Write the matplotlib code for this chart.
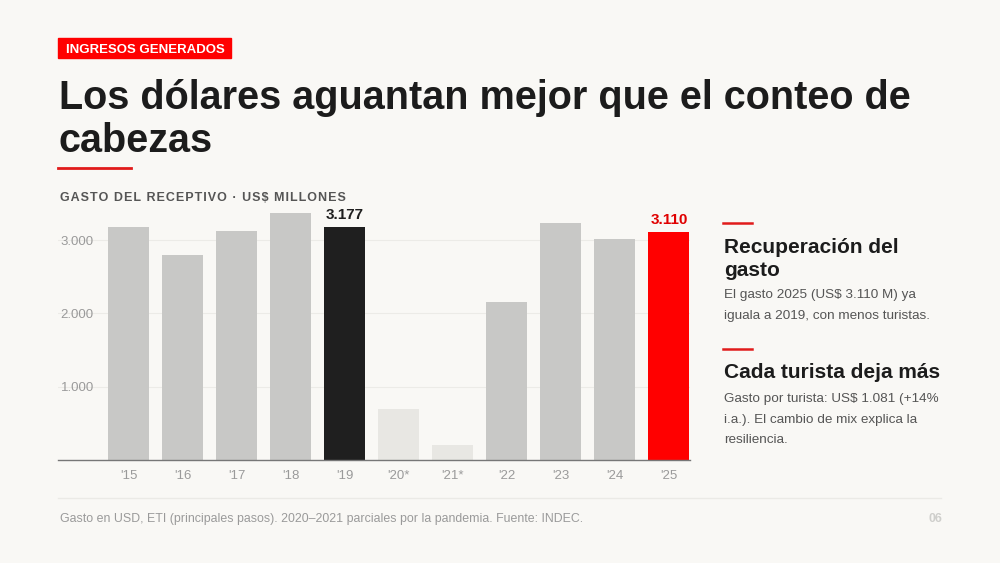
import matplotlib.pyplot as plt
from matplotlib.patches import Rectangle
from matplotlib.lines import Line2D

# Data
years = ["'15", "'16", "'17", "'18", "'19", "'20*", "'21*", "'22", "'23", "'24", "'25"]
gasto = [3180, 2800, 3130, 3370, 3177, 700, 200, 2150, 3240, 3020, 3110]
bar_colors = ["#c8c8c6", "#c8c8c6", "#c8c8c6", "#c8c8c6", "#1f1f1f", "#e8e7e3",
              "#e8e7e3", "#c8c8c6", "#c8c8c6", "#c8c8c6", "#ff0000"]
ytick_vals = [1000, 2000, 3000]
ytick_labels = ["1.000", "2.000", "3.000"]
highlights = {4: ("3.177", "#1f1f1f"), 10: ("3.110", "#e00000")}

BG = "#f9f8f5"
W, H = 1000, 563
plt.rcParams['font.family'] = ['Liberation Sans', 'DejaVu Sans']


def fx(x):
    return x / W


def fy(y):
    return 1 - y / H


def tracked(s):
    # poor man's letter spacing with hair spaces
    return "\u200a".join(s)


fig = plt.figure(figsize=(10, 5.63), dpi=100, facecolor=BG)

# Header tag
fig.patches.append(Rectangle((fx(58), fy(58)), fx(231) - fx(58), fy(38) - fy(58),
                             transform=fig.transFigure, color="#ff0000", zorder=1))
fig.text(fx(66), fy(52.7), "INGRESOS GENERADOS", color="white", fontsize=9.5,
         fontweight="bold", va="baseline", ha="left")

# Title
fig.text(fx(59), fy(109), "Los dólares aguantan mejor que el conteo de", fontsize=28.5,
         fontweight="bold", color="#1c1c1c", va="baseline", ha="left")
fig.text(fx(59), fy(151.5), "cabezas", fontsize=28.5, fontweight="bold", color="#1c1c1c",
         va="baseline", ha="left")
fig.lines.append(Line2D([fx(58), fx(131)], [fy(168), fy(168)], transform=fig.transFigure,
                        color="#e11b1b", lw=2))

# Chart subtitle
fig.text(fx(60), fy(200.7), tracked("GASTO DEL RECEPTIVO · US$ MILLONES"),
         fontsize=9, fontweight="bold", color="#555555", va="baseline", ha="left")

# Bar chart
ax = fig.add_axes([fx(58), fy(460), fx(690) - fx(58), (460 - 203.5) / H])
ax.set_facecolor(BG)
x = list(range(len(years)))
ax.bar(x, gasto, width=0.76, color=bar_colors, zorder=2)
ax.set_xlim(-1.31, 10.39)
ax.set_ylim(0, 3500)
ax.set_yticks(ytick_vals)
ax.set_yticklabels(ytick_labels)
ax.set_xticks(x)
ax.set_xticklabels(years)
ax.tick_params(axis='y', length=0, pad=-2, labelsize=9.5, labelcolor="#9a9a9a")
for lbl in ax.get_yticklabels():
    lbl.set_horizontalalignment('left')
ax.tick_params(axis='x', length=0, pad=7, labelsize=9.5, labelcolor="#9a9a9a")
ax.grid(axis='y', color="#ecebe7", lw=0.8, zorder=0)
for s in ['top', 'right', 'left']:
    ax.spines[s].set_visible(False)
ax.spines['bottom'].set_color("#777777")
ax.spines['bottom'].set_linewidth(1)
ax.spines['bottom'].set_zorder(3)

for i, (txt, col) in highlights.items():
    ax.annotate(txt, xy=(i, gasto[i]), xytext=(0, 4), textcoords="offset points",
                ha="center", va="bottom", fontsize=11, fontweight="bold", color=col)


# Right panel
def red_dash(y):
    fig.lines.append(Line2D([fx(723), fx(752)], [fy(y), fy(y)], transform=fig.transFigure,
                            color="#e11b1b", lw=1.8))


HEAD = dict(fontsize=15, fontweight="bold", color="#1c1c1c", va="baseline")
BODY = dict(fontsize=9.7, color="#555555", va="baseline")

red_dash(222.7)
fig.text(fx(724), fy(252.7), "Recuperación del", **HEAD)
fig.text(fx(724), fy(276.5), "gasto", **HEAD)
fig.text(fx(724), fy(298.3), "El gasto 2025 (US$ 3.110 M) ya", **BODY)
fig.text(fx(724), fy(319), "iguala a 2019, con menos turistas.", **BODY)

red_dash(348.7)
fig.text(fx(724), fy(378.3), "Cada turista deja más", **HEAD)
fig.text(fx(724), fy(401.7), "Gasto por turista: US$ 1.081 (+14%", **BODY)
fig.text(fx(724), fy(422.7), "i.a.). El cambio de mix explica la", **BODY)
fig.text(fx(724), fy(442.7), "resiliencia.", **BODY)

# Footer
fig.lines.append(Line2D([fx(58), fx(941)], [fy(498), fy(498)], transform=fig.transFigure,
                        color="#ebeae6", lw=1))
fig.text(fx(60), fy(519),
         "Gasto en USD, ETI (principales pasos). 2020–2021 parciales por la pandemia. Fuente: INDEC.",
         fontsize=8.9, color="#9a9a9a", va="center")
fig.text(fx(942), fy(519), "06", fontsize=8.9, fontweight="bold", color="#cfcfcc",
         va="center", ha="right")

fig.savefig("out.png", dpi=100, facecolor=BG)
